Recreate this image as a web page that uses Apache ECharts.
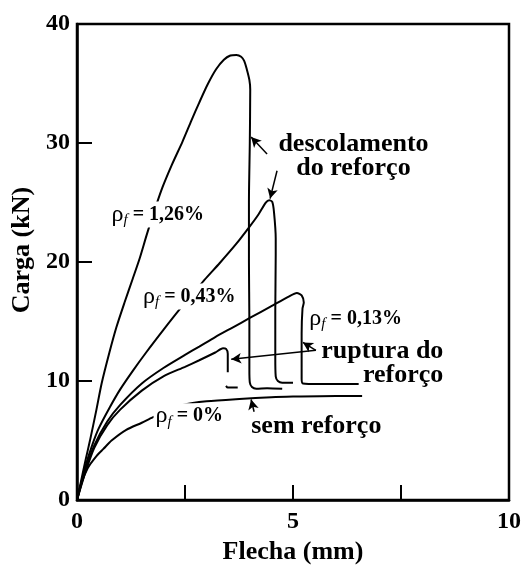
<!DOCTYPE html>
<html><head><meta charset="utf-8">
<script src="https://cdn.jsdelivr.net/npm/echarts@6/dist/echarts.min.js"></script>
<style>html,body{margin:0;padding:0;background:#fff}#c{width:524px;height:570px}</style>
</head><body><div id="c"></div>
<script>
// Flecha (mm) vs Carga (kN)
const rho126 = [[0,0],[0.1,1.7],[0.2,3.4],[0.3,5.0],[0.45,7.6],[0.57,9.8],[0.75,12.4],[0.91,14.5],[1.1,16.6],[1.29,18.6],[1.45,20.3],[1.64,22.6],[1.95,26.0],[2.2,28.2],[2.44,30.1],[2.65,31.9],[2.83,33.4],[3.02,34.9],[3.22,36.2],[3.4,37.0],[3.55,37.35],[3.69,37.4],[3.8,37.25],[3.87,36.9],[3.93,36.2],[3.99,35.3],[4.01,34.5],[4.0,30],[3.98,25],[3.98,20],[3.99,15],[3.99,11],[4.0,9.9],[4.05,9.5],[4.15,9.35],[4.4,9.4],[4.75,9.35]];
const rho043 = [[0,0],[0.1,1.5],[0.2,2.9],[0.35,4.6],[0.5,6.0],[0.76,7.8],[1.0,9.3],[1.3,10.9],[1.6,12.4],[2.0,14.3],[2.37,16.0],[2.7,17.4],[2.95,18.5],[3.3,19.9],[3.68,21.5],[4.0,23.0],[4.2,24.0],[4.37,25.0],[4.45,25.2],[4.52,25.05],[4.56,24.2],[4.6,22.0],[4.6,20.6],[4.59,16],[4.59,12],[4.6,10.4],[4.65,10.0],[4.75,9.85],[5.0,9.85]];
const rho013 = [[0,0],[0.2,2.6],[0.4,4.6],[0.7,6.6],[1.0,8.0],[1.5,9.8],[2.0,11.1],[2.5,12.2],[2.83,12.9],[3.2,13.7],[3.6,14.5],[4.0,15.3],[4.5,16.3],[4.9,17.1],[5.09,17.4],[5.2,17.2],[5.25,16.6],[5.22,16.1],[5.2,14.0],[5.2,10.2],[5.23,9.8],[5.6,9.75],[6.52,9.75]];
const rho013b = [[0,0],[0.2,2.4],[0.4,4.4],[0.7,6.3],[1.0,7.6],[1.5,9.2],[2.0,10.4],[2.5,11.2],[2.83,11.75],[3.2,12.4],[3.38,12.75],[3.45,12.7],[3.49,12.3],[3.49,10.75],['-','-'],[3.45,9.6],[3.49,9.45],[3.72,9.45]];
const rho000 = [[0,0],[0.1,1.4],[0.25,2.7],[0.45,3.7],[0.61,4.3],[0.8,5.0],[1.14,5.9],[1.5,6.5],[1.75,6.95],[2.1,7.5],[2.45,8.0],[3.0,8.3],[3.76,8.5],[4.5,8.65],[5.0,8.7],[6.0,8.75],[6.6,8.75]];
const xLabelValues = [0, 5, 10];
const curveNames = ['ρf = 1,26%', 'ρf = 0,43%', 'ρf = 0,13%', 'ρf = 0,13% (b)', 'ρf = 0%'];
const curveLabels = [
  {value:[1.87,24.0], text:'{r|ρ}{s|f}{t| = 1,26%}'},
  {value:[2.6,17.1], text:'{r|ρ}{s|f}{t| = 0,43%}'},
  {value:[6.45,15.25], text:'{r|ρ}{s|f}{t| = 0,13%}'},
  {value:[2.6,7.05], text:'{r|ρ}{s|f}{t| = 0%}'}
];
const noteLabels = [
  {value:[6.4,28.9], text:'descolamento\ndo reforço', pos:'inside'},
  {value:[8.48,11.5], text:'ruptura do\nreforço', pos:'left'},
  {value:[5.54,6.17], text:'sem reforço', pos:'inside'}
];
const arrows = [
  [[4.40,29.08],[4.03,30.5]],
  [[4.63,27.67],[4.47,25.33]],
  [[5.53,12.58],[3.57,11.83]],
  [[5.53,12.58],[5.23,13.25]],
  [[4.10,7.42],[4.03,8.45]]
];

const FONT = 'Liberation Serif';
const chart = echarts.init(document.getElementById('c'));
const curves = [rho126, rho043, rho013, rho013b, rho000];
const lineSeries = curves.map((d,i)=>({
  type:'line', name:curveNames[i], data:d, showSymbol:false, symbol:'none', z:2,
  smooth:0.25, lineStyle:{color:'#000', width:2}, connectNulls:false, animation:false
}));
const richStyles = {
  r:{fontFamily:FONT, fontSize:24, fontWeight:'normal', color:'#000', lineHeight:26},
  s:{fontFamily:FONT, fontSize:15, fontStyle:'italic', fontWeight:'normal', color:'#000', lineHeight:15, verticalAlign:'bottom'},
  t:{fontFamily:FONT, fontSize:20, fontWeight:'bold', color:'#000', lineHeight:26}
};
option = {
  animation:false,
  backgroundColor:'#fff',
  grid:{left:77,right:13,top:24,bottom:66,show:true,borderColor:'#000',borderWidth:2.5},
  xAxis:{
    type:'value', min:0, max:10, interval:2.5,
    axisLine:{show:true, onZero:false, lineStyle:{color:'#000', width:2.5}},
    axisTick:{show:true, inside:true, length:15, lineStyle:{color:'#000', width:2}},
    splitLine:{show:false},
    axisLabel:{formatter:v=>xLabelValues.includes(v)?String(v):'', fontFamily:FONT, fontWeight:'bold', fontSize:24, color:'#000', margin:10},
    name:'Flecha (mm)', nameLocation:'middle', nameGap:38,
    nameTextStyle:{fontFamily:FONT, fontWeight:'bold', fontSize:26, color:'#000'}
  },
  yAxis:{
    type:'value', min:0, max:40, interval:10,
    axisLine:{show:true, onZero:false, lineStyle:{color:'#000', width:2.5}},
    axisTick:{show:true, inside:true, length:15, lineStyle:{color:'#000', width:2}},
    splitLine:{show:false},
    axisLabel:{fontFamily:FONT, fontWeight:'bold', fontSize:24, color:'#000', margin:7},
    name:'Carga (kN)', nameLocation:'middle', nameGap:39,
    nameTextStyle:{fontFamily:FONT, fontWeight:'bold', fontSize:26, color:'#000', padding:[0,0,0,24]}
  },
  series: lineSeries.concat([
    {
      type:'scatter', z:10, symbolSize:0, silent:true, itemStyle:{opacity:1},
      data: curveLabels.map(a=>({value:a.value, label:{show:true, opacity:1, position:'inside', formatter:a.text, rich:richStyles, backgroundColor:'#fff', padding:[0,2]}})),
      markLine:{
        silent:true, symbol:['none','arrow'], symbolSize:[8,10], precision:3,
        label:{show:false},
        lineStyle:{color:'#000', width:1.5, type:'solid', opacity:1},
        itemStyle:{color:'#000'},
        emphasis:{disabled:true},
        data: arrows.map(a=>[{coord:a[0]},{coord:a[1]}])
      }
    },
    {
      type:'scatter', z:11, symbolSize:0, silent:true, itemStyle:{opacity:1},
      data: noteLabels.map(a=>({value:a.value, label:{show:true, opacity:1, position:a.pos, distance:0, formatter:a.text,
        fontFamily:FONT, fontWeight:'bold', fontSize:26, lineHeight:24, color:'#000', align: a.pos==='left'?'right':'center'}}))
    }
  ])
};
chart.setOption(option);
</script></body></html>
